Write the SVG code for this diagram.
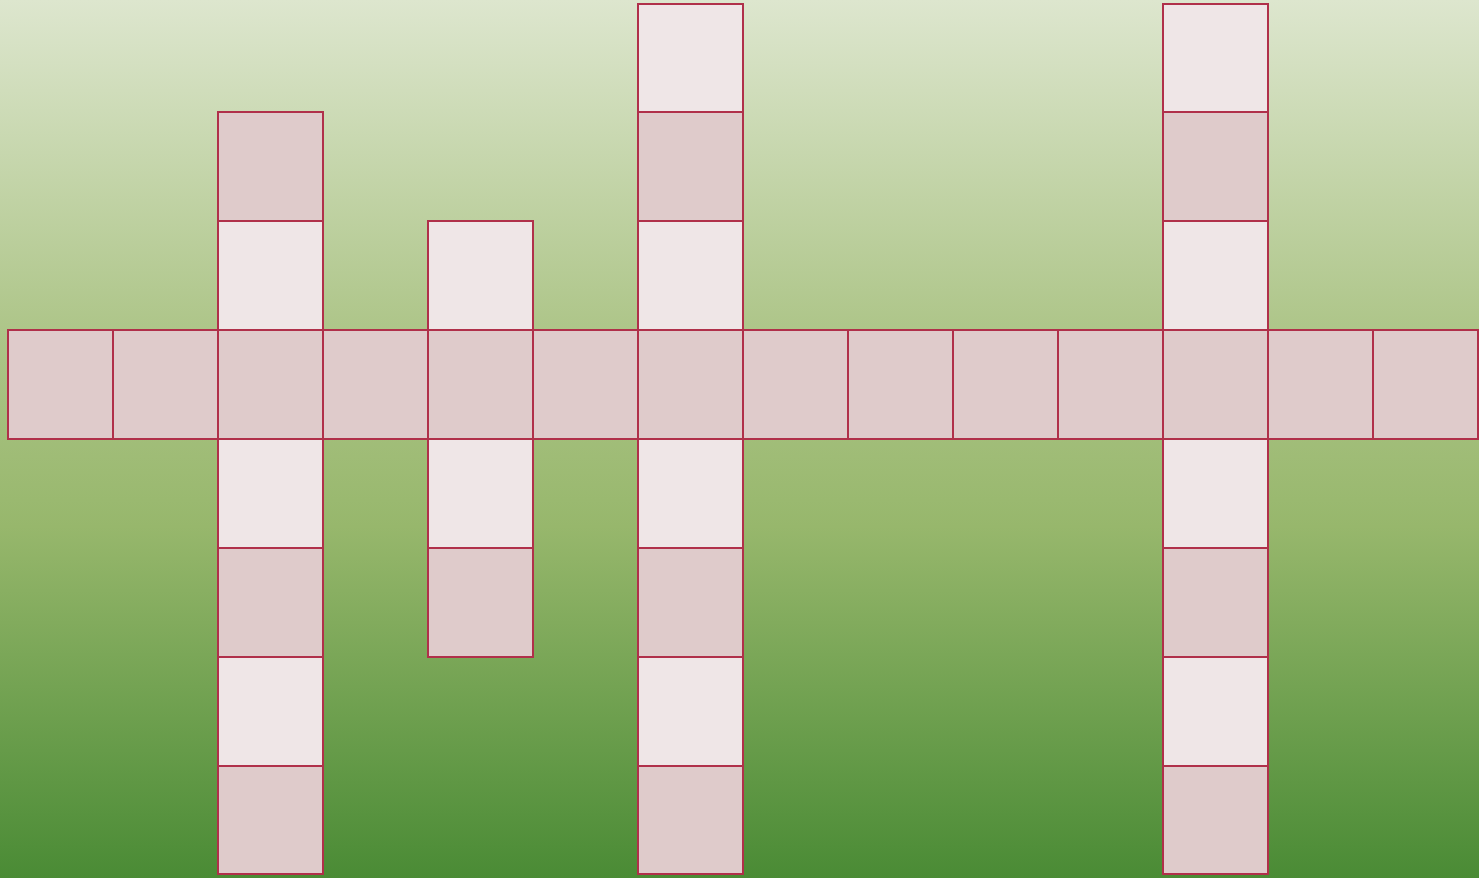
<svg xmlns="http://www.w3.org/2000/svg" width="1479" height="878" viewBox="0 0 1479 878">
<defs>
<linearGradient id="bg" x1="0" y1="0" x2="0" y2="1">
<stop offset="0" stop-color="#DDE6CE"/>
<stop offset="0.38" stop-color="#ADC588"/>
<stop offset="0.6" stop-color="#97B76C"/>
<stop offset="1" stop-color="#4A8B35"/>
</linearGradient>
<style>
.c{stroke:#B0304A;stroke-width:2}
.l{fill:#EFE6E7}
.d{fill:#DFCBCB}
</style>
</defs>
<rect x="0" y="0" width="1479" height="878" fill="url(#bg)"/>
<g id="across">
<rect class="c d" x="8" y="330" width="105" height="109"/>
<rect class="c d" x="113" y="330" width="105" height="109"/>
<rect class="c d" x="218" y="330" width="105" height="109"/>
<rect class="c d" x="323" y="330" width="105" height="109"/>
<rect class="c d" x="428" y="330" width="105" height="109"/>
<rect class="c d" x="533" y="330" width="105" height="109"/>
<rect class="c d" x="638" y="330" width="105" height="109"/>
<rect class="c d" x="743" y="330" width="105" height="109"/>
<rect class="c d" x="848" y="330" width="105" height="109"/>
<rect class="c d" x="953" y="330" width="105" height="109"/>
<rect class="c d" x="1058" y="330" width="105" height="109"/>
<rect class="c d" x="1163" y="330" width="105" height="109"/>
<rect class="c d" x="1268" y="330" width="105" height="109"/>
<rect class="c d" x="1373" y="330" width="105" height="109"/>
</g>
<g id="down1">
<rect class="c d" x="218" y="112" width="105" height="109"/>
<rect class="c l" x="218" y="221" width="105" height="109"/>
<rect class="c l" x="218" y="439" width="105" height="109"/>
<rect class="c d" x="218" y="548" width="105" height="109"/>
<rect class="c l" x="218" y="657" width="105" height="109"/>
<rect class="c d" x="218" y="766" width="105" height="108"/>
</g>
<g id="down2">
<rect class="c l" x="428" y="221" width="105" height="109"/>
<rect class="c l" x="428" y="439" width="105" height="109"/>
<rect class="c d" x="428" y="548" width="105" height="109"/>
</g>
<g id="down3">
<rect class="c l" x="638" y="4" width="105" height="108"/>
<rect class="c d" x="638" y="112" width="105" height="109"/>
<rect class="c l" x="638" y="221" width="105" height="109"/>
<rect class="c l" x="638" y="439" width="105" height="109"/>
<rect class="c d" x="638" y="548" width="105" height="109"/>
<rect class="c l" x="638" y="657" width="105" height="109"/>
<rect class="c d" x="638" y="766" width="105" height="108"/>
</g>
<g id="down4">
<rect class="c l" x="1163" y="4" width="105" height="108"/>
<rect class="c d" x="1163" y="112" width="105" height="109"/>
<rect class="c l" x="1163" y="221" width="105" height="109"/>
<rect class="c l" x="1163" y="439" width="105" height="109"/>
<rect class="c d" x="1163" y="548" width="105" height="109"/>
<rect class="c l" x="1163" y="657" width="105" height="109"/>
<rect class="c d" x="1163" y="766" width="105" height="108"/>
</g>
<g id="connectors"/>
</svg>
